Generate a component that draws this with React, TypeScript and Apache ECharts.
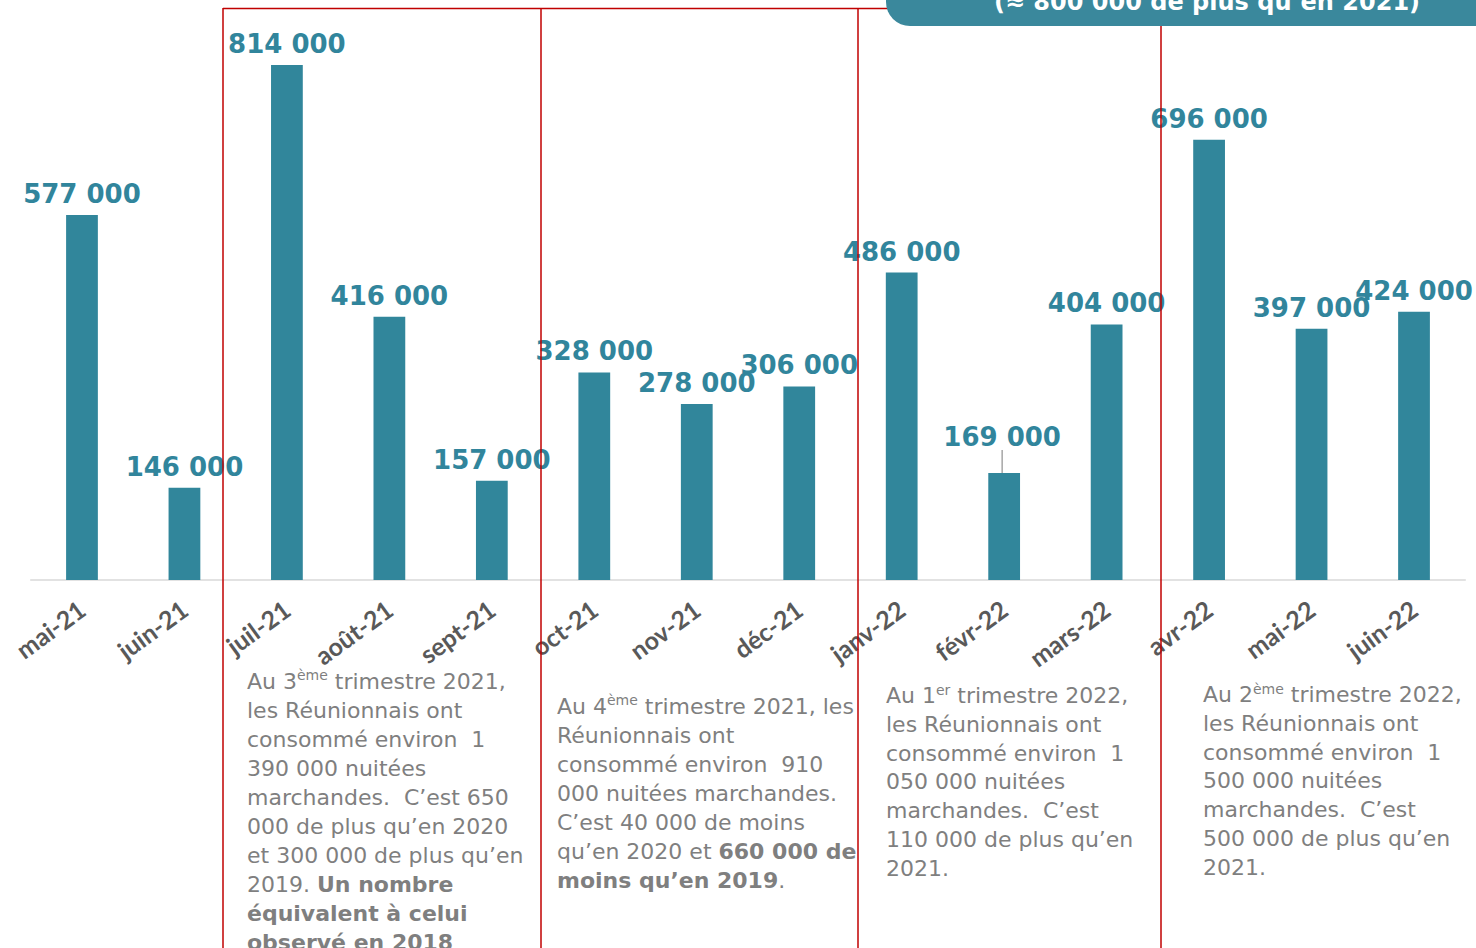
import React, { useEffect, useRef } from "react";
import * as echarts from "echarts";

const categories = [
  "mai-21", "juin-21", "juil-21", "août-21", "sept-21", "oct-21", "nov-21",
  "déc-21", "janv-22", "févr-22", "mars-22", "avr-22", "mai-22", "juin-22",
];
const nuitees = [
  577000, 146000, 814000, 416000, 157000, 328000, 278000,
  306000, 486000, 169000, 404000, 696000, 397000, 424000,
];
// index of the bar whose label is lifted with a leader line
const liftedLabelIndex = 9;

const bannerText = "(≈ 800 000 de plus qu’en 2021)";

const noteQ3 = [
  "Au 3{sup|ème} trimestre 2021,",
  "les Réunionnais ont",
  "consommé environ  1",
  "390 000 nuitées",
  "marchandes.  C’est 650",
  "000 de plus qu’en 2020",
  "et 300 000 de plus qu’en",
  "2019. {b|Un nombre}",
  "{b|équivalent à celui}",
  "{b|observé en 2018}",
];
const noteQ4 = [
  "Au 4{sup|ème} trimestre 2021, les",
  "Réunionnais ont",
  "consommé environ  910",
  "000 nuitées marchandes.",
  "C’est 40 000 de moins",
  "qu’en 2020 et {b|660 000 de}",
  "{b|moins qu’en 2019}.",
];
const noteQ1 = [
  "Au 1{sup|er} trimestre 2022,",
  "les Réunionnais ont",
  "consommé environ  1",
  "050 000 nuitées",
  "marchandes.  C’est",
  "110 000 de plus qu’en",
  "2021.",
];
const noteQ2 = [
  "Au 2{sup|ème} trimestre 2022,",
  "les Réunionnais ont",
  "consommé environ  1",
  "500 000 nuitées",
  "marchandes.  C’est",
  "500 000 de plus qu’en",
  "2021.",
];

const TEAL = "#31869B";
const RED = "#C00000";
const GRAY = "#7F7F7F";

const fmt = (v: number) =>
  String(v).replace(/\B(?=(\d{3})+(?!\d))/g, " ");

function noteText(lines: string[], x: number, y: number, lh: number) {
  return {
    type: "text",
    x,
    y,
    z: 10,
    style: {
      text: lines.join("\n"),
      fill: GRAY,
      fontSize: 22,
      fontFamily: "DejaVu Sans",
      lineHeight: lh,
      verticalAlign: "top",
      align: "left",
      rich: {
        b: {
          fontWeight: "bold",
          fontSize: 22,
          fontFamily: "DejaVu Sans",
          fill: GRAY,
          lineHeight: lh,
        },
        sup: {
          fontSize: 14,
          fontFamily: "DejaVu Sans",
          fill: GRAY,
          padding: [0, 0, 12, 0],
          lineHeight: lh,
        },
      },
    },
  };
}

function vline(x: number, y1: number, y2: number) {
  return {
    type: "line",
    z: 20,
    shape: { x1: x, y1, x2: x, y2 },
    style: { stroke: RED, lineWidth: 1.5 },
  };
}

export default function App() {
  const ref = useRef<HTMLDivElement>(null);

  useEffect(() => {
    if (!ref.current) return;
    const chart = echarts.init(ref.current, undefined, { renderer: "svg" });
    const barData = nuitees.map((v, i) =>
      i === liftedLabelIndex
        ? { value: v, labelLine: { show: true } }
        : { value: v }
    );
    chart.setOption({
      animation: false,
      backgroundColor: "#ffffff",
      grid: { left: 30.75, right: 10.75, top: 10.6, bottom: 368, containLabel: false },
      xAxis: {
        type: "category",
        data: categories,
        axisLine: { show: true, lineStyle: { color: "#D9D9D9", width: 1.5 } },
        axisTick: { show: false },
        axisLabel: {
          interval: 0,
          rotate: 36,
          margin: 26,
          color: "#595959",
          fontFamily: "Lato",
          fontWeight: "bold",
          fontSize: 25,
        },
      },
      yAxis: {
        type: "value",
        min: 0,
        max: 900000,
        show: false,
        splitLine: { show: false },
      },
      series: [
        {
          type: "bar",
          data: barData,
          barWidth: "31%",
          itemStyle: { color: TEAL },
          label: {
            show: true,
            position: "top",
            distance: 8,
            color: "#31859C",
            fontFamily: "DejaVu Sans",
            fontWeight: "bold",
            fontSize: 26,
            formatter: (p: any) => fmt(p.value),
          },
          labelLayout: (p: any) =>
            p.dataIndex === liftedLabelIndex ? { dy: -15, dx: -2 } : {},
          labelLine: { show: false, lineStyle: { color: "#A6A6A6", width: 1.5 } },
        },
      ],
      graphic: [
        {
          type: "rect",
          z: 30,
          shape: { x: 886, y: -40, width: 640, height: 66, r: [0, 0, 0, 24] },
          style: { fill: "#3A889C" },
        },
        {
          type: "text",
          z: 31,
          x: 1207,
          y: 14,
          style: {
            text: bannerText,
            fill: "#ffffff",
            fontFamily: "DejaVu Sans",
            fontWeight: "bold",
            fontSize: 24,
            align: "center",
            verticalAlign: "bottom",
          },
        },
        {
          type: "line",
          z: 20,
          shape: { x1: 223, y1: 8.5, x2: 890, y2: 8.5 },
          style: { stroke: RED, lineWidth: 1.5 },
        },
        vline(223, 8, 948),
        vline(541, 8, 948),
        vline(858, 8, 948),
        vline(1161, 26, 948),
        noteText(noteQ3, 247, 666.5, 29),
        noteText(noteQ4, 557, 691.5, 29),
        noteText(noteQ1, 886, 681.5, 28.7),
        noteText(noteQ2, 1203, 680.5, 28.7),
      ],
    });
    return () => chart.dispose();
  }, []);

  return (
    <div
      ref={ref}
      style={{ position: "fixed", left: 0, top: 0, width: 1476, height: 948, background: "#fff" }}
    />
  );
}
